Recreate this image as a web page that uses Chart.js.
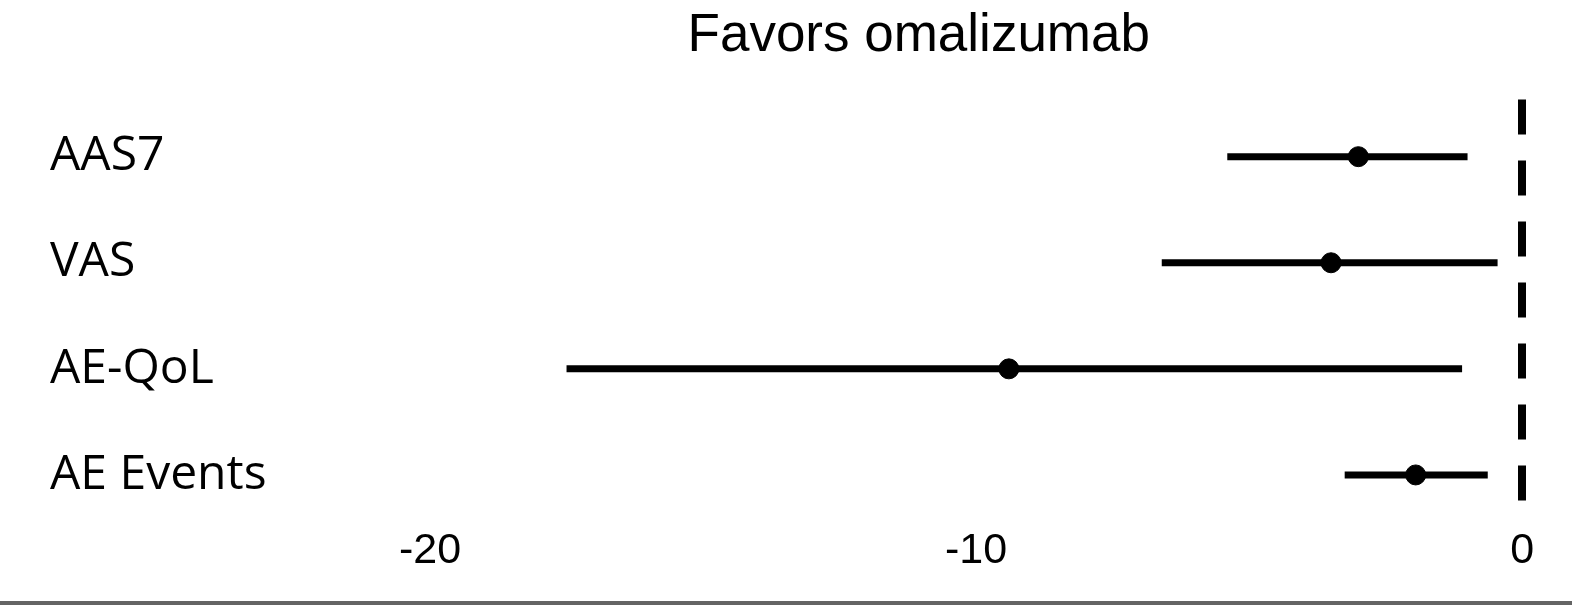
<!DOCTYPE html>
<html>
<head>
<meta charset="utf-8">
<script src="https://cdn.jsdelivr.net/npm/chart.js@4.4.1/dist/chart.umd.min.js"></script>
<style>
  html, body { margin: 0; padding: 0; background: #fff; }
  #wrap { width: 1572px; height: 601px; border-bottom: 4px solid #646464; }
</style>
</head>
<body>
<div id="wrap"><canvas id="forest"></canvas></div>
<script>
const outcomes = ["AAS7", "VAS", "AE-QoL", "AE Events"];
const estimate = [-3.0, -3.5, -9.4, -1.95];
const ciLower = [-5.4, -6.6, -17.5, -3.25];
const ciUpper = [-1.0, -0.45, -1.1, -0.63];
const xTickValues = [-20, -10, 0];

const ciSets = outcomes.map((name, i) => ({
  type: "line",
  label: name,
  data: [
    { x: ciLower[i], y: i },
    { x: ciUpper[i], y: i },
  ],
  borderColor: "#000",
  borderWidth: 7,
  pointRadius: 0,
}));

new Chart(document.getElementById("forest"), {
  data: {
    datasets: [
      ...ciSets,
      {
        type: "scatter",
        label: "estimate",
        data: estimate.map((v, i) => ({ x: v, y: i })),
        backgroundColor: "#000",
        borderColor: "#000",
        pointRadius: 10,
      },
    ],
  },
  options: {
    responsive: true,
    maintainAspectRatio: false,
    animation: false,
    layout: { padding: { top: 0, left: 50, right: 28, bottom: 0 } },
    plugins: {
      legend: { display: false },
      tooltip: { enabled: false },
      title: {
        display: true,
        text: "Favors omalizumab",
        fullSize: false,
        color: "#000",
        font: { family: "Liberation Sans", size: 53, weight: "normal" },
        padding: { top: 5, bottom: 31 },
      },
    },
    scales: {
      x: {
        type: "linear",
        min: -22.5,
        max: 0.4,
        afterBuildTicks: (scale) => {
          scale.ticks = xTickValues.map((v) => ({ value: v }));
        },
        afterFit: (scale) => {
          scale.height = 99;
        },
        ticks: {
          color: "#000",
          padding: 23,
          font: { family: "Liberation Sans", size: 43 },
        },
        grid: {
          drawTicks: false,
          lineWidth: 8,
          color: (ctx) => (ctx.tick && ctx.tick.value === 0 ? "#000" : "rgba(0,0,0,0)"),
        },
        border: { display: false, dash: [35, 26] },
      },
      y: {
        type: "linear",
        reverse: true,
        min: -0.538,
        max: 3.255,
        afterBuildTicks: (scale) => {
          scale.ticks = outcomes.map((_, i) => ({ value: i }));
        },
        afterFit: (scale) => {
          scale.width = 243.5;
        },
        ticks: {
          color: "#000",
          crossAlign: "far",
          font: { family: "Open Sans", size: 48 },
          callback: (v) => outcomes[v],
        },
        grid: { display: false },
        border: { display: false },
      },
    },
  },
});
</script>
</body>
</html>
